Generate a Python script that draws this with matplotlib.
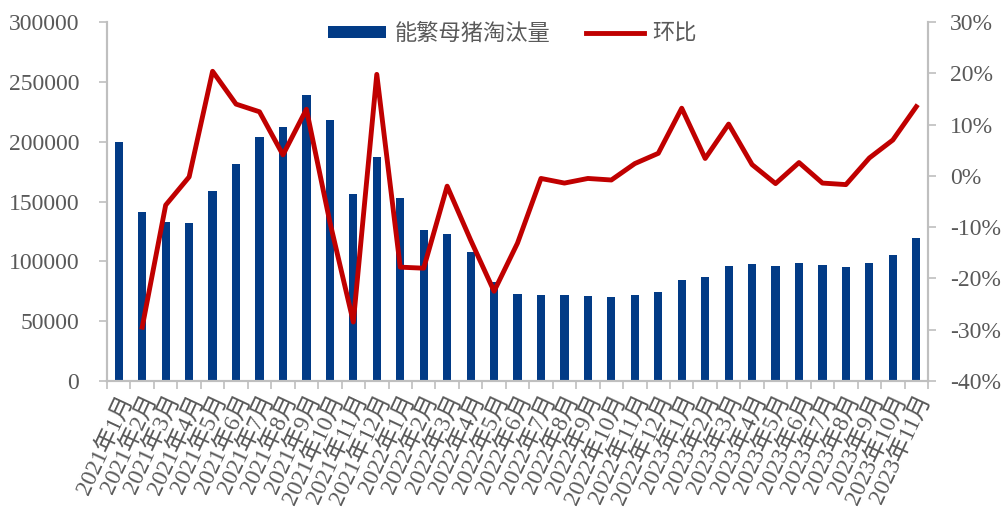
import matplotlib.pyplot as plt
import numpy as np
from matplotlib.ticker import FuncFormatter, FixedLocator

plt.rcParams['font.family'] = ['Liberation Serif', 'Noto Sans CJK SC']

# months
months = []
for y in [2021, 2022, 2023]:
    for m in range(1, 13):
        if y == 2023 and m > 11:
            break
        months.append(f"{y}年{m}月")

# sow culling volume
culled = [200000, 141000, 133000, 132000, 159000, 181000, 204000, 212000, 239000, 218000,
          156000, 187000, 153000, 126000, 123000, 108000, 83000, 73000, 72000, 71500,
          71000, 70500, 72000, 74500, 84500, 87000, 96000, 98000, 96000, 98500,
          97000, 95000, 98500, 105000, 119500]

# month-on-month change (%), first month has none
mom = [np.nan, -29.5, -5.7, -0.2, 20.4, 14.0, 12.5, 4.1, 13.0, -9.0,
       -28.5, 19.8, -17.8, -18.0, -2.0, -12.5, -22.5, -13.1, -0.5, -1.4,
       -0.5, -0.8, 2.4, 4.4, 13.2, 3.4, 10.1, 2.2, -1.5, 2.6,
       -1.4, -1.7, 3.5, 7.0, 13.5]

x = np.arange(len(months))
txt = '#595959'
grey = '#BFBFBF'

fig = plt.figure(figsize=(10.05, 5.13), dpi=100)
ax1 = fig.add_axes([0.1065, 0.2573, 0.8169, 0.6997])
ax2 = ax1.twinx()

bars = ax1.bar(x, culled, width=0.35, color='#023B86', label='能繁母猪淘汰量', zorder=2)
line, = ax2.plot(x, mom, color='#C00000', lw=3.5, label='环比', zorder=3)

ax1.set_xlim(-0.5, len(months) - 0.5)
ax1.set_ylim(0, 300000)
ax1.set_yticks(np.arange(0, 300001, 50000))
ax2.set_ylim(-40, 30)
ax2.set_yticks(np.arange(-40, 31, 10))
ax2.yaxis.set_major_formatter(FuncFormatter(lambda v, p: f"{v:.0f}%"))

ax1.set_xticks(x)
ax1.set_xticklabels(months, rotation=65, ha='right', va='top', rotation_mode='anchor',
                    fontsize=17, color=txt)
ax1.tick_params(axis='x', which='major', length=0, pad=8)
ax1.xaxis.set_minor_locator(FixedLocator(np.arange(-0.5, len(months), 1)))
ax1.tick_params(axis='x', which='minor', length=6, color=grey, width=1.2)

ax1.tick_params(axis='y', labelsize=17, colors=txt, length=6, color=grey, width=1.2, pad=14)
ax2.tick_params(axis='y', labelsize=17, colors=txt, length=6, color=grey, width=1.2, pad=10)

for ax in (ax1, ax2):
    ax.spines['top'].set_visible(False)
    for s in ['left', 'right', 'bottom']:
        ax.spines[s].set_color(grey)
        ax.spines[s].set_linewidth(1.5)

fig.legend(handles=[bars, line], labels=['能繁母猪淘汰量', '环比'], loc='center',
           bbox_to_anchor=(0.51, 0.935), ncol=2, frameon=False,
           prop={'family': ['Noto Sans CJK SC'], 'size': 16}, labelcolor=txt,
           handlelength=2.6, handleheight=0.5, handletextpad=0.4, columnspacing=1.6)

fig.savefig('out.png', dpi=100)
